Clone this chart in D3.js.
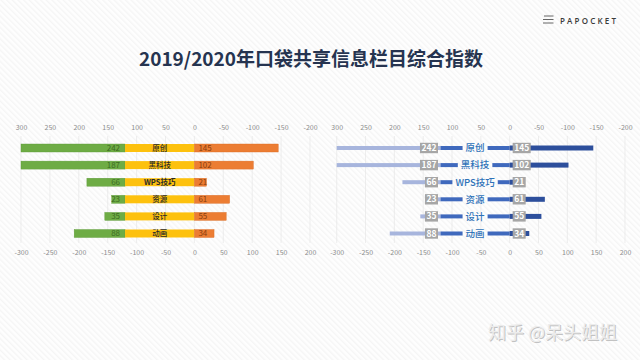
<!DOCTYPE html>
<html><head><meta charset="utf-8">
<script src="https://cdn.jsdelivr.net/npm/d3@7"></script>
<style>html,body{margin:0;padding:0;background:#fff;}svg{display:block;}</style>
</head><body>
<svg id="c" width="640" height="360"></svg>
<script>
const categories = ['原创','黑科技','WPS技巧','资源','设计','动画'];
const leftValues = [242,187,66,23,35,88];
const rightValues = [145,102,21,61,55,34];
const labelBand = 120;
const tickValues = [-300,-250,-200,-150,-100,-50,0,50,100,150,200];
const title = '2019/2020年口袋共享信息栏目综合指数';
const logoText = 'PAPOCKET';
const watermark = '知乎 @呆头姐姐';

const FONT = '"Noto Sans CJK SC","Noto Sans",sans-serif';
const svg = d3.select('#c');
const defs = svg.append('defs');
const pat = defs.append('pattern').attr('id','hatch').attr('patternUnits','userSpaceOnUse')
  .attr('width',4).attr('height',4).attr('patternTransform','rotate(-45)');
pat.append('rect').attr('width',4).attr('height',4).attr('fill','#fefefe');
pat.append('rect').attr('width',1.4).attr('height',4).attr('fill','#f5f5f5');
svg.append('rect').attr('width',640).attr('height',360).attr('fill','url(#hatch)');

// logo
const lg = svg.append('g');
[16,19.5,23].forEach((y,i)=>lg.append('line').attr('x1',i===0?544:543).attr('x2',553.5).attr('y1',y).attr('y2',y)
  .attr('stroke','#555').attr('stroke-width',0.9));
lg.append('text').attr('x',560).attr('y',23.5).text(logoText).attr('font-family','"Open Sans",sans-serif')
  .attr('font-size',8).attr('font-weight',600).attr('letter-spacing',2.2).attr('fill','#3a3a3a');

// title
svg.append('text').attr('x',311).attr('y',66).attr('text-anchor','middle').text(title)
  .attr('font-family',FONT).attr('font-size',19).attr('font-weight',700).attr('fill','#263450');

const y = d3.scalePoint().domain(categories).range([148,233.5]);

function axes(g, x){
  const top = d3.axisTop(x).tickValues(tickValues).tickSize(0).tickFormat(d=>String(-d));
  const bot = d3.axisBottom(x).tickValues(tickValues).tickSize(0).tickFormat(d=>String(d));
  g.selectAll('line.grid').data(tickValues).join('line').attr('class','grid')
    .attr('x1',d=>x(d)).attr('x2',d=>x(d)).attr('y1',136).attr('y2',243)
    .attr('stroke','#e6e6e6').attr('stroke-width',0.7);
  const gt = g.append('g').attr('transform','translate(0,133)').call(top);
  const gb = g.append('g').attr('transform','translate(0,247)').call(bot);
  [gt,gb].forEach(a=>{a.select('.domain').remove();
    a.attr('color','#8c8c8c');
    a.selectAll('text').attr('font-family',FONT).attr('font-size',7).attr('fill','#8c8c8c');});
}

// ---- left chart
const xL = d3.scaleLinear().domain([-300,200]).range([21,310]);
const gL = svg.append('g');
axes(gL, xL);
const dom = xL.domain();
const clip = v=>Math.max(dom[0],v);
const bhL = 8;
gL.selectAll('rect.g').data(categories).join('rect').attr('class','g')
  .attr('x',(d,i)=>xL(clip(-labelBand-leftValues[i]))).attr('y',d=>y(d)-bhL/2)
  .attr('width',(d,i)=>xL(-labelBand)-xL(clip(-labelBand-leftValues[i]))).attr('height',bhL)
  .attr('fill','#6eac45').attr('stroke','#5d9a37').attr('stroke-width',0.4);
gL.selectAll('rect.yy').data(categories).join('rect').attr('class','yy')
  .attr('x',xL(-labelBand)).attr('y',d=>y(d)-bhL/2).attr('width',xL(0)-xL(-labelBand)).attr('height',bhL)
  .attr('fill','#fdc10e');
gL.selectAll('rect.o').data(categories).join('rect').attr('class','o')
  .attr('x',xL(0)).attr('y',d=>y(d)-bhL/2).attr('width',(d,i)=>xL(rightValues[i])-xL(0)).attr('height',bhL)
  .attr('fill','#ec7d33').attr('stroke','#d96c25').attr('stroke-width',0.4);
gL.selectAll('text.gl').data(categories).join('text').attr('class','gl')
  .attr('x',xL(-labelBand)-5).attr('y',d=>y(d)+2.8).attr('text-anchor','end')
  .text((d,i)=>leftValues[i]).attr('font-family',FONT).attr('font-size',8).attr('fill','#3c6b22');
gL.selectAll('text.ol').data(categories).join('text').attr('class','ol')
  .attr('x',xL(0)+4).attr('y',d=>y(d)+2.8)
  .text((d,i)=>rightValues[i]).attr('font-family',FONT).attr('font-size',8).attr('fill','#8a3d0e');
gL.selectAll('text.cl').data(categories).join('text').attr('class','cl')
  .attr('x',xL(-labelBand/2)).attr('y',d=>y(d)+2.8).attr('text-anchor','middle')
  .text(d=>d).attr('font-family',FONT).attr('font-size',7.5).attr('font-weight',d=>d==='WPS技巧'?700:500).attr('fill','#2a2a2a');

// ---- right chart
const xR = d3.scaleLinear().domain([-300,200]).range([336.7,625]);
const gR = svg.append('g');
axes(gR, xR);
gR.selectAll('rect.lb').data(categories).join('rect').attr('class','lb')
  .attr('x',(d,i)=>xR(clip(-labelBand-leftValues[i]))).attr('y',d=>y(d)-2)
  .attr('width',(d,i)=>xR(-labelBand)-xR(clip(-labelBand-leftValues[i]))).attr('height',4)
  .attr('fill','#a7b5dd');
gR.selectAll('rect.mb').data(categories).join('rect').attr('class','mb')
  .attr('x',xR(-labelBand)).attr('y',d=>y(d)-2).attr('width',xR(0)-xR(-labelBand)).attr('height',4)
  .attr('fill','#3f69bd');
gR.selectAll('rect.db').data(categories).join('rect').attr('class','db')
  .attr('x',xR(0)).attr('y',d=>y(d)-2.5).attr('width',(d,i)=>xR(rightValues[i])-xR(0)).attr('height',5)
  .attr('fill','#2d4f9c');
categories.forEach((c,i)=>{
  const t = gR.append('text').attr('x',xR(-labelBand/2)).attr('y',y(c)+3.3).attr('text-anchor','middle')
    .text(c).attr('font-family',FONT).attr('font-size',9.5).attr('font-weight',500).attr('fill','#2e72b8');
  const w = t.node().getComputedTextLength();
  gR.insert('rect', () => t.node()).attr('x',xR(-labelBand/2)-w/2-3).attr('y',y(c)-4).attr('width',w+6).attr('height',8)
    .attr('fill','url(#hatch)');
  const lt = gR.append('text').attr('x',xR(-labelBand)-4).attr('y',y(c)+3).attr('text-anchor','end')
    .text(leftValues[i]).attr('font-family',FONT).attr('font-size',8.5).attr('font-weight',700).attr('fill','#fff');
  const lw = lt.node().getComputedTextLength();
  gR.insert('rect', () => lt.node()).attr('x',xR(-labelBand)-4-lw-1.5).attr('y',y(c)-5.2).attr('width',lw+3).attr('height',10.4).attr('fill','#a6a6a6');
  const rt = gR.append('text').attr('x',xR(0)+4.5).attr('y',y(c)+3)
    .text(rightValues[i]).attr('font-family',FONT).attr('font-size',8.5).attr('font-weight',700).attr('fill','#fff');
  const rw = rt.node().getComputedTextLength();
  gR.insert('rect', () => rt.node()).attr('x',xR(0)+3).attr('y',y(c)-5.2).attr('width',rw+3).attr('height',10.4).attr('fill','#a6a6a6');
});

// watermark
const wm = svg.append('g').attr('font-family',FONT).attr('font-size',18).attr('font-weight',400);
wm.append('text').attr('x',489).attr('y',340.2).text(watermark).attr('fill','#c2c2c2');
wm.append('text').attr('x',488).attr('y',339.4).text(watermark).attr('fill','#ececec');
</script>
</body></html>
